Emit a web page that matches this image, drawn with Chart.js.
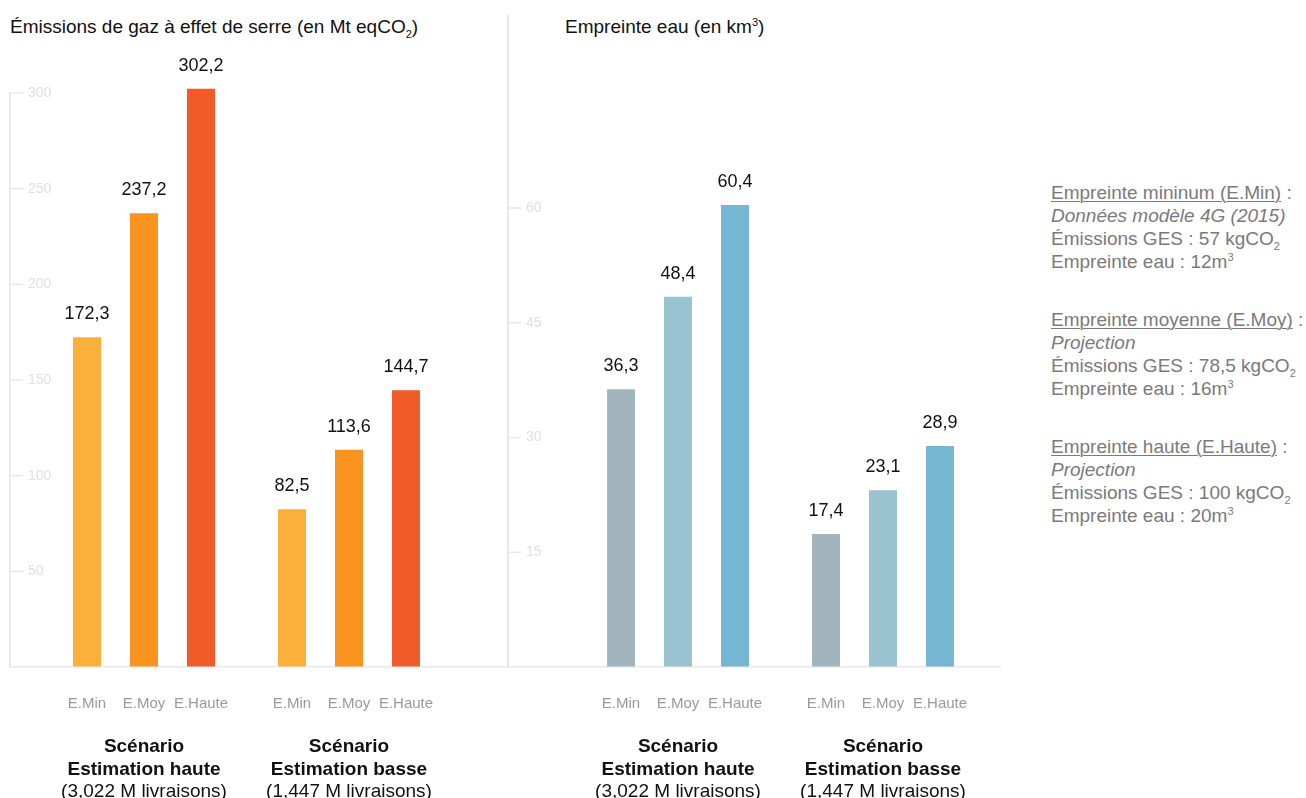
<!DOCTYPE html>
<html lang="fr">
<head>
<meta charset="utf-8">
<title>Émissions et empreinte eau</title>
<script src="https://cdn.jsdelivr.net/npm/chart.js@4"></script>
<style>
  html, body { margin: 0; padding: 0; background: #fff; }
  body { width: 1306px; height: 798px; position: relative; overflow: hidden;
         font-family: "Liberation Sans", Arial, sans-serif; }
  canvas { position: absolute; top: 0; }
  #ghg { left: 0; }
  #water { left: 498px; }
  .title { position: absolute; top: 15px; font-size: 19px; line-height: 23px; color: #111; white-space: nowrap; }
  .title sub, .title sup, .legend sub, .legend sup { font-size: 11px; line-height: 0; }
  .sep { position: absolute; left: 507px; top: 15px; width: 1.5px; height: 652px; background: #e8e8e8; }
  .legend { position: absolute; left: 1051px; top: 181px; font-size: 19px; line-height: 23px; color: #7a7a7a; white-space: nowrap; }
  .legend p { margin: 0 0 35px 0; }
  .legend u { text-decoration-thickness: 1px; text-underline-offset: 2px; }
</style>
</head>
<body>
<div class="sep"></div>
<div class="title" style="left:10px">Émissions de gaz à effet de serre (en Mt eqCO<sub>2</sub>)</div>
<div class="title" style="left:565px">Empreinte eau (en km<sup>3</sup>)</div>
<canvas id="ghg" width="510" height="798"></canvas>
<canvas id="water" width="510" height="798"></canvas>
<div class="legend">
  <p><u>Empreinte mininum (E.Min)</u> :<br><i>Données modèle 4G (2015)</i><br>Émissions GES : 57 kgCO<sub>2</sub><br>Empreinte eau : 12m<sup>3</sup></p>
  <p><u>Empreinte moyenne (E.Moy)</u> :<br><i>Projection</i><br>Émissions GES : 78,5 kgCO<sub>2</sub><br>Empreinte eau : 16m<sup>3</sup></p>
  <p><u>Empreinte haute (E.Haute)</u> :<br><i>Projection</i><br>Émissions GES : 100 kgCO<sub>2</sub><br>Empreinte eau : 20m<sup>3</sup></p>
</div>
<script>
// data
const scenarioPos = [1, 2];
const scenarioLines = [
  ["Scénario", "Estimation haute", "(3,022 M livraisons)"],
  ["Scénario", "Estimation basse", "(1,447 M livraisons)"],
];
const estimates = ["E.Min", "E.Moy", "E.Haute"];

const ghgMin = [172.3, 82.5];
const ghgMoy = [237.2, 113.6];
const ghgHaute = [302.2, 144.7];

const waterMin = [36.3, 17.4];
const waterMoy = [48.4, 23.1];
const waterHaute = [60.4, 28.9];

const ghgColors = ["#fbb03b", "#f7931e", "#f15a29"];
const waterColors = ["#a2b5bd", "#99c3d1", "#77b6d3"];

const FONT = '"Liberation Sans", Arial, sans-serif';
const LINE = "#e8e8e8";

const fmt = (v) => v.toFixed(1).replace(".", ",");

// value labels, short labels under bars, scenario names, y tick marks
const barText = {
  id: "barText",
  afterDatasetsDraw(chart) {
    const { ctx, chartArea, scales } = chart;
    ctx.save();

    ctx.strokeStyle = LINE;
    ctx.lineWidth = 1.5;
    scales.y.ticks.forEach((t) => {
      if (t.value === 0) return;
      const y = scales.y.getPixelForValue(t.value);
      ctx.beginPath();
      ctx.moveTo(chartArea.left, y);
      ctx.lineTo(chartArea.left + 13, y);
      ctx.stroke();
    });

    ctx.textAlign = "center";
    ctx.textBaseline = "middle";
    chart.data.datasets.forEach((ds, i) => {
      chart.getDatasetMeta(i).data.forEach((bar, j) => {
        ctx.fillStyle = "#111";
        ctx.font = "18px " + FONT;
        ctx.fillText(fmt(ds.data[j].y), bar.x, bar.y - 23);
        ctx.fillStyle = "#9a9a9a";
        ctx.font = "15px " + FONT;
        ctx.fillText(ds.label, bar.x, chartArea.bottom + 37);
      });
    });

    scenarioLines.forEach((lines, j) => {
      const x = scales.x.getPixelForValue(scenarioPos[j]);
      lines.forEach((line, k) => {
        ctx.fillStyle = "#111";
        ctx.font = (k < 2 ? "bold " : "") + "19px " + FONT;
        ctx.fillText(line, x, chartArea.bottom + 80 + k * 22.5);
      });
    });
    ctx.restore();
  },
};

function makeChart(id, series, colors, yMax, step, xMin, xMax, top, right) {
  return new Chart(document.getElementById(id), {
    type: "bar",
    data: {
      datasets: series.map((vals, i) => ({
        label: estimates[i],
        data: vals.map((v, j) => ({ x: scenarioPos[j], y: v })),
        backgroundColor: colors[i],
        borderWidth: 0,
        categoryPercentage: 0.834,
        barPercentage: 0.491,
        clip: false,
      })),
    },
    options: {
      responsive: false,
      animation: false,
      layout: { padding: { top: top, right: right, left: 0, bottom: 0 } },
      plugins: { legend: { display: false }, tooltip: { enabled: false } },
      scales: {
        x: {
          type: "linear",
          offset: false,
          min: xMin,
          max: xMax,
          afterBuildTicks: (s) => {
            s.ticks = scenarioPos.map((v) => ({ value: v }));
          },
          ticks: { display: false },
          grid: { drawOnChartArea: false, drawTicks: false, offset: false },
          border: { color: LINE, width: 1.5 },
          afterFit: (s) => {
            s.height = 131;
          },
        },
        y: {
          min: 0,
          max: yMax,
          ticks: {
            stepSize: step,
            mirror: true,
            padding: 18,
            color: "#e0e0e0",
            font: { family: FONT, size: 14 },
            callback: (v) => (v === 0 ? "" : v),
          },
          grid: { drawOnChartArea: false, drawTicks: false },
          border: { color: LINE, width: 1.5 },
          afterFit: (s) => {
            s.width = 10;
          },
        },
      },
    },
    plugins: [barText],
  });
}

makeChart("ghg", [ghgMin, ghgMoy, ghgHaute], ghgColors, 300, 50, 0.3463, 2.7756, 93, 2);
makeChart("water", [waterMin, waterMoy, waterHaute], waterColors, 60, 15, 0.1707, 2.5707, 208, 8);
</script>
</body>
</html>
